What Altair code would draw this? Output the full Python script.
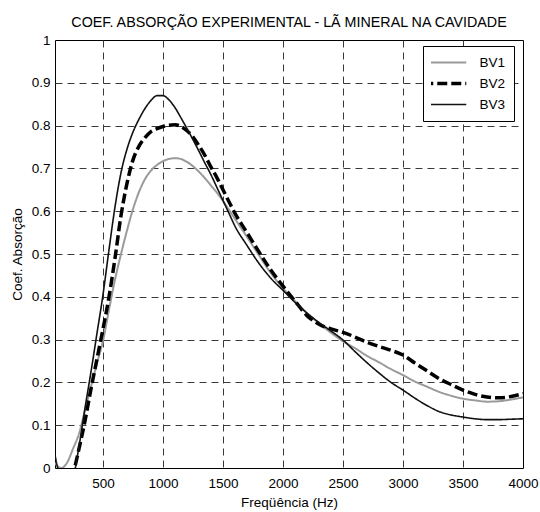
import altair as alt
import pandas as pd

freq = [100, 150, 200, 250, 300, 350, 400, 450, 500, 550, 600, 650, 700, 750, 800,
        850, 900, 950, 1000, 1050, 1100, 1150, 1200, 1250, 1300, 1350, 1400, 1450,
        1500, 1550, 1600, 1700, 1800, 1900, 2000, 2100, 2200, 2300, 2400, 2500, 2600,
        2700, 2800, 2900, 3000, 3100, 3200, 3300, 3400, 3500, 3600, 3700, 3800, 3900, 4000]

bv1 = [0.012, 0.0, 0.012, 0.045, 0.08, 0.135, 0.19, 0.245, 0.297, 0.37, 0.44, 0.50,
       0.555, 0.605, 0.645, 0.675, 0.695, 0.708, 0.717, 0.722, 0.724, 0.722, 0.715,
       0.705, 0.692, 0.677, 0.66, 0.643, 0.624, 0.603, 0.582, 0.54, 0.497, 0.455, 0.42,
       0.39, 0.362, 0.338, 0.316, 0.296, 0.28, 0.262, 0.247, 0.231, 0.217, 0.202, 0.19,
       0.178, 0.169, 0.162, 0.158, 0.155, 0.156, 0.16, 0.165]

bv2 = [-0.15, -0.1, -0.06, -0.015, 0.045, 0.11, 0.185, 0.255, 0.325, 0.4, 0.49,
       0.59, 0.665, 0.72, 0.752, 0.772, 0.786, 0.793, 0.798, 0.801, 0.802, 0.798,
       0.788, 0.773, 0.753, 0.73, 0.703, 0.678, 0.65, 0.622, 0.595, 0.55, 0.505, 0.462,
       0.425, 0.39, 0.356, 0.336, 0.325, 0.317, 0.306, 0.294, 0.284, 0.275, 0.264,
       0.245, 0.227, 0.209, 0.195, 0.182, 0.172, 0.166, 0.164, 0.167, 0.174]

bv3 = [0.03, -0.03, -0.05, -0.025, 0.05, 0.14, 0.225, 0.315, 0.405, 0.51, 0.61, 0.69,
       0.745, 0.785, 0.815, 0.84, 0.859, 0.87, 0.87, 0.86, 0.842, 0.818, 0.793, 0.767,
       0.74, 0.712, 0.685, 0.655, 0.625, 0.595, 0.565, 0.52, 0.478, 0.443, 0.415, 0.387,
       0.362, 0.34, 0.32, 0.299, 0.272, 0.246, 0.222, 0.2, 0.182, 0.163, 0.146, 0.132,
       0.124, 0.119, 0.115, 0.113, 0.113, 0.114, 0.115]

series_names = ["BV1", "BV2", "BV3"]
x_ticks = [500, 1000, 1500, 2000, 2500, 3000, 3500, 4000]
y_ticks = [0, 0.1, 0.2, 0.3, 0.4, 0.5, 0.6, 0.7, 0.8, 0.9, 1]

rows = []
for name, vals in zip(series_names, [bv1, bv2, bv3]):
    for f, v in zip(freq, vals):
        rows.append({"f": f, "v": v, "s": name})
df = pd.DataFrame(rows)

FONT = "Liberation Sans"

legend = alt.Legend(
    title=None, orient="none", legendX=368, legendY=6,
    symbolType="stroke", symbolSize=1849, clipHeight=17, rowPadding=4,
    padding=8, labelOffset=28, symbolOffset=7,
    labelFont=FONT, labelFontSize=13.5, labelColor="black",
    strokeColor="black", fillColor="white", cornerRadius=0,
    symbolStrokeWidth={"expr": "datum.value === 'BV2' ? 3.5 : (datum.value === 'BV1' ? 2 : 1.6)"},
)

chart = alt.Chart(df).transform_calculate(
    w="datum.s === 'BV2' ? 3.5 : (datum.s === 'BV1' ? 2 : 1.6)"
).mark_line(clip=True, interpolate="monotone").encode(
    x=alt.X("f:Q", scale=alt.Scale(domain=[100, 4000], nice=False, zero=False),
            axis=alt.Axis(values=x_ticks, format="d", title="Freqüência (Hz)", labelFlush=False,
                          labelPadding=8, titlePadding=6,
                          gridOpacity={"condition": {"test": "datum.value >= 4000", "value": 0}, "value": 1})),
    y=alt.Y("v:Q", scale=alt.Scale(domain=[0, 1], nice=False),
            axis=alt.Axis(values=y_ticks, format="~g", title="Coef. Absorção", labelFlush=False,
                          labelPadding=5, titlePadding=7,
                          gridOpacity={"condition": {"test": "datum.value <= 0 || datum.value >= 1", "value": 0}, "value": 1})),
    color=alt.Color("s:N", scale=alt.Scale(domain=series_names, range=["#9a9a9a", "#000000", "#111111"]),
                    legend=legend),
    strokeDash=alt.StrokeDash("s:N", scale=alt.Scale(domain=series_names, range=[[1, 0], [10, 4], [1, 0]]),
                              legend=legend),
    strokeWidth=alt.StrokeWidth("w:Q", scale=None, legend=None),
    order=alt.Order("f:Q"),
).properties(
    width=468, height=428,
    title=alt.TitleParams("COEF. ABSORÇÃO EXPERIMENTAL - LÃ MINERAL NA CAVIDADE", font=FONT,
                          fontSize=14.3, fontWeight="normal", color="black", anchor="middle",
                          baseline="alphabetic", offset=13, dy=21),
    autosize=alt.AutoSizeParams(type="none"),
    padding={"left": 55, "top": 40, "right": 17, "bottom": 44},
    background="white",
).configure_view(
    stroke="black", strokeWidth=1
).configure_axis(
    domain=False, ticks=False, grid=True, gridDash=[7, 5], gridColor="#3a3a3a", gridWidth=1,
    labelFont=FONT, labelFontSize=13.5, labelColor="black",
    titleFont=FONT, titleFontSize=13.5, titleFontWeight="normal", titleColor="black",
)

chart.save("out.html", embed_options={"renderer": "svg", "actions": False})
